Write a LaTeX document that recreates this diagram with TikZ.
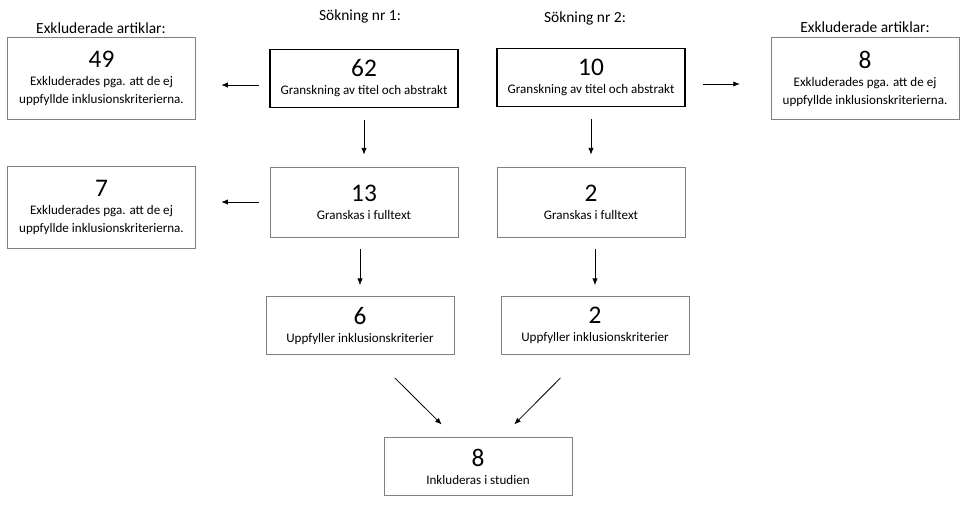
\documentclass[tikz,border=0pt]{standalone}
\usepackage{fontspec}
\setmainfont{Carlito}
\usetikzlibrary{positioning,calc,arrows.meta}

\newcommand{\nr}[1]{{\fontsize{19}{21}\selectfont #1}\\}

\begin{document}
\begin{tikzpicture}[x=0.75pt,y=-0.75pt]
            \tikzstyle{box}=[draw=black!50, line width=0.6pt, minimum width=141pt, minimum height=44pt, align=center, inner sep=1pt, font=\fontsize{9.8}{13.5}\selectfont]
            \tikzstyle{boxb}=[box, draw=black, line width=0.9pt]
            \tikzstyle{head}=[font=\fontsize{11.6}{13}\selectfont]
            \tikzstyle{arr}=[-{Latex[length=5pt,width=4pt]}, line width=0.6pt]

            \useasboundingbox (0,0) rectangle (969,504);

            \node[box, minimum height=62pt] (ex1) at (101.5,78.5) {\nr{49}Exkluderades pga. att de ej\\uppfyllde inklusionskriterierna.};
            \node[boxb] (s1a) at (364,78.5) {\nr{62}Granskning av titel och abstrakt};
            \node[boxb] (s2a) at (591,77.5) {\nr{10}Granskning av titel och abstrakt};
            \node[box, minimum height=62pt] (ex2) at (865,78.5) {\nr{8}Exkluderades pga. att de ej\\uppfyllde inklusionskriterierna.};

            \node[box, minimum height=61pt] (ex3) at (101.5,207.5) {\nr{7}Exkluderades pga. att de ej\\uppfyllde inklusionskriterierna.};
            \node[box, minimum height=52.5pt] (s1b) at (364,202) {\nr{13}Granskas i fulltext};
            \node[box, minimum height=52.5pt] (s2b) at (591,202) {\nr{2}Granskas i fulltext};

            \node[box] (s1c) at (360,325.5) {\nr{6}Uppfyller inklusionskriterier};
            \node[box] (s2c) at (595,325.5) {\nr{2}Uppfyller inklusionskriterier};

            \node[box] (inc) at (478,466.5) {\nr{8}Inkluderas i studien};

            \node[head] (h1) at (101,28) {Exkluderade artiklar:};
            \node[head] (h2) at (360,16) {Sökning nr 1:};
            \node[head] (h3) at (585,18) {Sökning nr 2:};
            \node[head] (h4) at (865,27) {Exkluderade artiklar:};

            \draw[arr, shorten <=8pt, shorten >=19pt] (s1a.west |- 0,85) -- (ex1.east |- 0,85);
            \draw[arr, shorten <=13pt, shorten >=23pt] (s2a.east |- 0,84) -- (ex2.west |- 0,84);
            \draw[arr, shorten <=8pt, shorten >=19pt] (s1b.west) -- (ex3.east |- s1b.west);

            \draw[arr, shorten <=9pt, shorten >=9pt] (s1a.south) -- (s1b.north);
            \draw[arr, shorten <=9pt, shorten >=9pt] (s2a.south) -- (s2b.north);
            \draw[arr, shorten <=9pt, shorten >=8pt] (s1b.south -| s1c.north) -- (s1c.north);
            \draw[arr, shorten <=9pt, shorten >=8pt] (s2b.south -| s2c.north) -- (s2c.north);

            \draw[arr, shorten <=24pt, shorten >=13pt] ([xshift=9pt]s1c.south) -- ([xshift=-18pt]inc.north);
            \draw[arr, shorten <=24pt, shorten >=13pt] ([xshift=-9pt]s2c.south) -- ([xshift=18pt]inc.north);
        \end{tikzpicture}
\end{document}
